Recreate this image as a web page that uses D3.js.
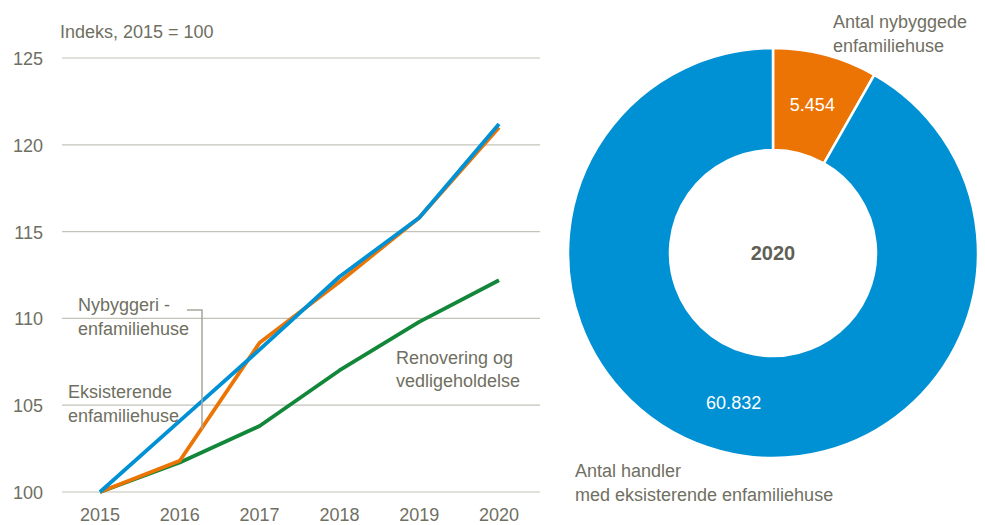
<!DOCTYPE html>
<html>
<head>
<meta charset="utf-8">
<script src="https://cdn.jsdelivr.net/npm/d3@7"></script>
<style>
  body { margin: 0; background: #fff; }
  svg text { font-family: "Liberation Sans Narrow", "Arial Narrow", "Liberation Sans", Arial, sans-serif; fill: #6f6f62; }
</style>
</head>
<body>
<script>
// line chart data (index, 2015 = 100)
const years = ["2015", "2016", "2017", "2018", "2019", "2020"];
const eksisterende = [100, 104.1, 108.2, 112.4, 115.8, 121.2];
const nybyggeri = [100, 101.8, 108.6, 112.1, 115.8, 121.0];
const renovering = [100, 101.7, 103.8, 107.0, 109.8, 112.2];
const yTicks = [100, 105, 110, 115, 120, 125];

// donut data
const donutLabels = ["Antal nybyggede enfamiliehuse", "Antal handler med eksisterende enfamiliehuse"];
const donutValues = [5454, 60832];
const donutYear = "2020";

const W = 985, H = 525;
const colors = { blue: "#0091d4", orange: "#ec7404", green: "#12873a" };

const svg = d3.select("body").append("svg").attr("width", W).attr("height", H);

// ---------- line chart ----------
const x = d3.scalePoint().domain(years).range([100, 499]);
const y = d3.scaleLinear().domain([100, 125]).range([492, 58]);

//gridlines
svg.append("g").selectAll("line")
   .data(yTicks)
   .enter()
   .append("line")
   .attr("x1", 62).attr("x2", 540)
   .attr("y1", d => y(d)).attr("y2", d => y(d))
   .attr("stroke", "#c4c3b8").attr("stroke-width", 1.2);

//y labels
svg.append("g").selectAll("text")
   .data(yTicks)
   .enter()
   .append("text")
   .attr("x", 43).attr("y", d => y(d) + 7)
   .attr("text-anchor", "end")
   .attr("font-size", 18)
   .text(d => d);

//x labels
svg.append("g").selectAll("text")
   .data(years)
   .enter()
   .append("text")
   .attr("x", d => x(d)).attr("y", 521)
   .attr("text-anchor", "middle")
   .attr("font-size", 18)
   .text(d => d);

svg.append("text").attr("x", 60).attr("y", 38).attr("font-size", 18).text("Indeks, 2015 = 100");

const line = d3.line().x((d, i) => x(years[i])).y(d => y(d));

[[renovering, colors.green], [nybyggeri, colors.orange], [eksisterende, colors.blue]].forEach(function(s) {
  svg.append("path")
     .datum(s[0])
     .attr("d", line)
     .attr("fill", "none")
     .attr("stroke", s[1])
     .attr("stroke-width", 3.8)
     .attr("stroke-linejoin", "round");
});

//annotations
function multiText(lines, tx, ty, lh, anchor) {
  const t = svg.append("text").attr("x", tx).attr("y", ty).attr("font-size", 18).attr("text-anchor", anchor || "start");
  lines.forEach(function(l, i) {
    t.append("tspan").attr("x", tx).attr("dy", i ? lh : 0).text(l);
  });
  return t;
}
multiText(["Nybyggeri -", "enfamiliehuse"], 78, 311, 24);
multiText(["Eksisterende", "enfamiliehuse"], 68, 398, 24);
multiText(["Renovering og", "vedligeholdelse"], 396, 364, 23);

svg.append("path")
   .attr("d", "M187,310 H202 V429")
   .attr("fill", "none")
   .attr("stroke", "#a8a79b")
   .attr("stroke-width", 1.5);

// ---------- donut ----------
const cx = 773, cy = 253, outerR = 205, innerR = 103;
const pie = d3.pie().sort(null).value(d => d);
const arc = d3.arc().innerRadius(innerR).outerRadius(outerR);
const arcs = pie(donutValues);

const g = svg.append("g").attr("transform", `translate(${cx},${cy})`);
g.selectAll("path")
 .data(arcs)
 .enter()
 .append("path")
 .attr("d", arc)
 .attr("fill", (d, i) => i === 0 ? colors.orange : colors.blue)
 .attr("stroke", "#fff")
 .attr("stroke-width", 2.5);

g.selectAll("text.val")
 .data(arcs)
 .enter()
 .append("text")
 .attr("class", "val")
 .attr("transform", d => `translate(${arc.centroid(d)})`)
 .attr("dy", 7)
 .attr("text-anchor", "middle")
 .attr("font-size", 18)
 .style("fill", "#fff")
 .text(d => d3.format(",")(d.data).replace(/,/g, "."));

g.append("text")
 .attr("text-anchor", "middle")
 .attr("dy", 7)
 .attr("font-size", 20)
 .attr("font-weight", "bold")
 .style("fill", "#5f5f55")
 .text(donutYear);

multiText(["Antal nybyggede", "enfamiliehuse"], 833, 28, 24);
multiText(["Antal handler", "med eksisterende enfamiliehuse"], 575, 477, 24);
</script>
</body>
</html>
